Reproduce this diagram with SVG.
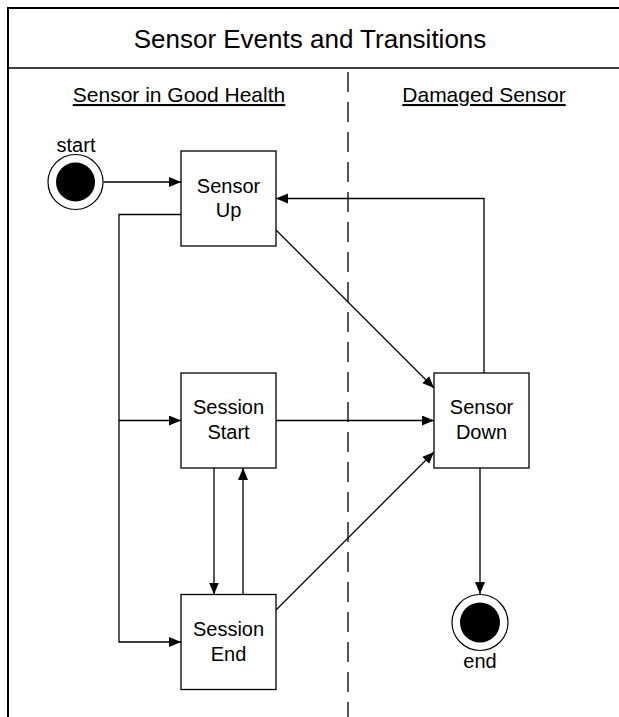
<svg xmlns="http://www.w3.org/2000/svg" width="619" height="717" viewBox="0 0 619 717">
<style>
text{font-family:"Liberation Sans",Arial,sans-serif;fill:#000}
.box{fill:#fff;stroke:#000;stroke-width:1.3}
.lbl{font-size:20px;text-anchor:middle}
.conn{fill:none;stroke:#000;stroke-width:1.3}
.frame{fill:none;stroke:#000;stroke-width:2}
</style>
<defs>
<marker id="arr" markerUnits="userSpaceOnUse" markerWidth="13" markerHeight="11" refX="12" refY="5" orient="auto">
<path d="M0,0 L12,5 L0,10 z" fill="#000"/>
</marker>
</defs>
<rect width="619" height="717" fill="#fff"/>
<g id="frame">
<path class="frame" d="M8,717 V8 H619"/>
<path d="M8,68 H619" stroke="#000" stroke-width="1.5"/>
<path d="M348,72 V717" stroke="#000" stroke-width="1.3" stroke-dasharray="20,10"/>
<text x="310" y="48" font-size="26" text-anchor="middle">Sensor Events and Transitions</text>
<text x="179" y="102" font-size="21" text-anchor="middle" text-decoration="underline">Sensor in Good Health</text>
<text x="484" y="102" font-size="21" text-anchor="middle" text-decoration="underline">Damaged Sensor</text>
</g>
<g id="connectors">
<path class="conn" d="M103.5,182 H181" marker-end="url(#arr)"/>
<path class="conn" d="M181,214.5 H119 V642 H181" marker-end="url(#arr)"/>
<path class="conn" d="M119,420.5 H181" marker-end="url(#arr)"/>
<path class="conn" d="M276,230 L434,388" marker-end="url(#arr)"/>
<path class="conn" d="M276,420.5 H434" marker-end="url(#arr)"/>
<path class="conn" d="M276,610 L434,452" marker-end="url(#arr)"/>
<path class="conn" d="M484,373 V198.5 H276" marker-end="url(#arr)"/>
<path class="conn" d="M214,468 V594.5" marker-end="url(#arr)"/>
<path class="conn" d="M243,594.5 V468" marker-end="url(#arr)"/>
<path class="conn" d="M480,468 V594" marker-end="url(#arr)"/>
</g>
<g id="start">
<circle cx="75.5" cy="182" r="27.5" fill="#fff" stroke="#000" stroke-width="1.2"/>
<circle cx="75.5" cy="182" r="19.5" fill="#000"/>
<text class="lbl" x="76" y="152">start</text>
</g>
<g id="sensor-up">
<rect class="box" x="181" y="151" width="95" height="95"/>
<text class="lbl" x="228.5" y="192.5">Sensor</text>
<text class="lbl" x="228.5" y="216.5">Up</text>
</g>
<g id="session-start">
<rect class="box" x="181" y="373" width="95" height="95"/>
<text class="lbl" x="228.5" y="414">Session</text>
<text class="lbl" x="228.5" y="439">Start</text>
</g>
<g id="session-end">
<rect class="box" x="181" y="594.5" width="95" height="95"/>
<text class="lbl" x="228.5" y="636">Session</text>
<text class="lbl" x="228.5" y="661">End</text>
</g>
<g id="sensor-down">
<rect class="box" x="434" y="373" width="95" height="95"/>
<text class="lbl" x="481.5" y="414">Sensor</text>
<text class="lbl" x="481.5" y="439">Down</text>
</g>
<g id="end">
<circle cx="480" cy="622.5" r="28" fill="#fff" stroke="#000" stroke-width="1.2"/>
<circle cx="480" cy="622.5" r="20" fill="#000"/>
<text class="lbl" x="480" y="668">end</text>
</g>
</svg>
